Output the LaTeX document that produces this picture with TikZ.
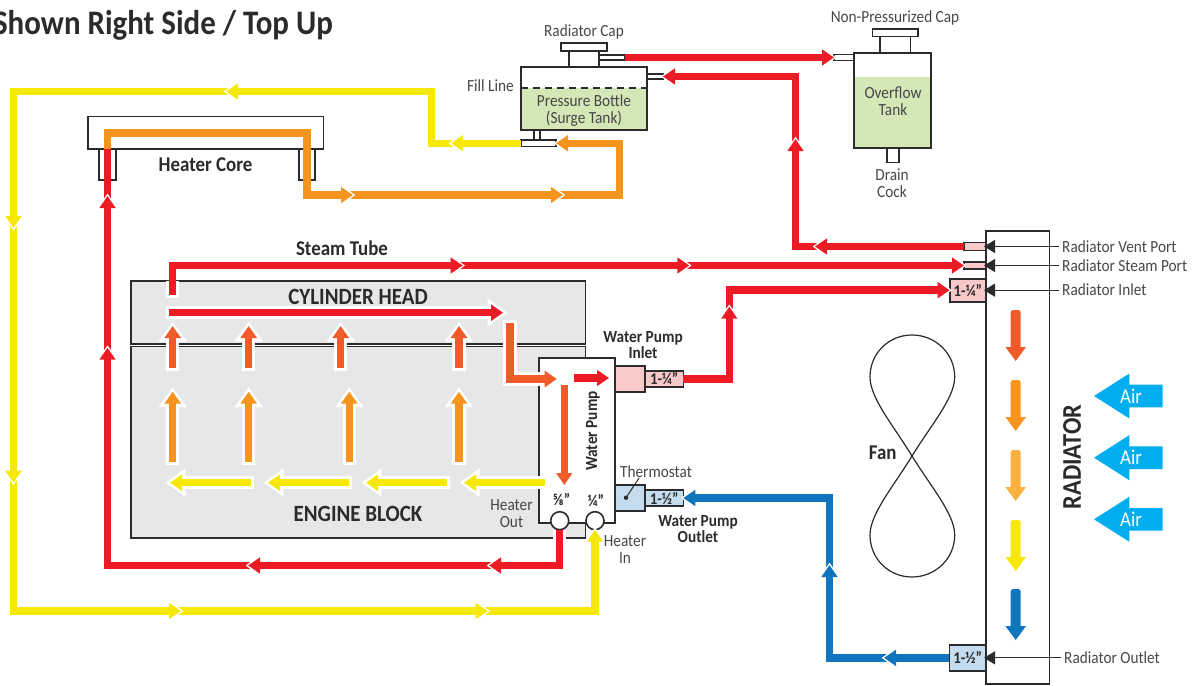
\documentclass[tikz,border=0pt]{standalone}
\usepackage{xcolor}
\usepackage{fontspec}
\setmainfont[FakeStretch=0.9]{Carlito}
\usepackage{tikz}
\usetikzlibrary{arrows.meta}

\definecolor{pipered}{HTML}{ED1C24}
\definecolor{hotorange}{HTML}{F15A29}
\definecolor{pipeorange}{HTML}{F7941D}
\definecolor{paleorange}{HTML}{FBB040}
\definecolor{pipeyellow}{HTML}{F5E80A}
\definecolor{pipeblue}{HTML}{0F75BC}
\definecolor{aircyan}{HTML}{00AEEF}
\definecolor{tankgreen}{HTML}{D3E8B6}
\definecolor{blockgray}{HTML}{E6E7E8}
\definecolor{portpink}{HTML}{F9C9C9}
\definecolor{portblue}{HTML}{C4DCEE}
\definecolor{linedark}{HTML}{2B2B2D}
\definecolor{labelgray}{HTML}{47474A}

\tikzset{
    partbox/.style={draw=linedark, line width=1.6pt, inner sep=0pt, outer sep=0pt},
    sizebox/.style={partbox, font=\fontsize{16.5}{18}\selectfont\bfseries, text=linedark},
    lbl/.style={font=\fontsize{17}{17}\selectfont, text=labelgray, inner sep=0pt, align=center},
    boldlbl/.style={font=\fontsize{17}{16.5}\selectfont\bfseries, text=linedark, inner sep=0pt, align=center},
    midlbl/.style={font=\fontsize{21}{23}\selectfont\bfseries, text=linedark, inner sep=0pt},
    biglbl/.style={font=\fontsize{23.3}{25}\selectfont\bfseries, text=linedark, inner sep=0pt},
    sizelbl/.style={font=\fontsize{16.5}{18}\selectfont\bfseries, text=linedark, inner sep=0pt},
    portlbl/.style={lbl, anchor=west, inner sep=3pt, text height=12pt, text depth=1pt},
    leader/.style={draw=linedark, line width=1pt, -{Triangle[length=11pt,width=13pt]}, shorten >=-2pt},
    pipe/.style={line width=7.5pt},
    flow/.style={pipe, -{Triangle[length=12pt,width=15.5pt]},
        preaction={draw=white, line width=7.5pt, -{Triangle[length=14pt,width=19pt]}, shorten >=-2.4pt}},
    blockflow/.style={pipe, -{Triangle[length=12pt,width=16pt]},
        preaction={draw=white, line width=13.5pt, -{Triangle[length=20pt,width=27pt]}, shorten >=-4.5pt, shorten <=-3pt}},
    fromtip/.style={shorten <=-5pt},
    pipegap/.style={draw=white, line width=13pt},
}

\begin{document}
\begin{tikzpicture}[x=1pt, y=-1pt]
    \useasboundingbox (0,0) rectangle (1201,685);

    % Title
    \node[font=\fontsize{34.4}{36}\selectfont\bfseries, text=linedark, anchor=east, inner sep=0pt] (title) at (333,25) {Shown Right Side / Top Up};

    % Engine
    \node[partbox, fill=blockgray, minimum width=454.5, minimum height=62.7] (cylhead) at (358.25,312.35) {};
    \node[partbox, fill=blockgray, minimum width=454.5, minimum height=191.7] (engblock) at (358.25,442.15) {};
    \node[biglbl] (cylheadlbl) at (358,297) {CYLINDER HEAD};
    \node[biglbl] (engblocklbl) at (358,514) {ENGINE BLOCK};

    % Water pump
    \node[partbox, fill=white, minimum width=75.7, minimum height=165] (pump) at (576.85,440.2) {};
    \node[partbox, fill=portpink, minimum width=30.3, minimum height=25.7] (pumpin) at (629.85,378.85) {};
    \node[sizebox, fill=portpink, minimum width=38.3, minimum height=15.7] (pumpinsize) at (664.15,378.85) {1-¼"};
    \node[partbox, fill=portblue, minimum width=30.3, minimum height=26] (pumpout) at (629.85,498) {};
    \node[sizebox, fill=portblue, minimum width=38.3, minimum height=15.7] (pumpoutsize) at (664.15,498) {1-½"};
    \node[partbox, circle, fill=white, minimum size=18] (hout) at (559.7,520.7) {};
    \node[partbox, circle, fill=white, minimum size=18] (hin) at (595,520.7) {};
    \node[boldlbl, rotate=90] (pumplbl) at (593,431) {Water Pump};
    \node[sizelbl] (houtsize) at (561.5,500) {⅝"};
    \node[sizelbl] (hinsize) at (596,500) {¼"};
    \node[lbl] (houtlbl) at (511.5,513.5) {Heater\\Out};
    \node[lbl] (hinlbl) at (625,549.5) {Heater\\In};
    \node[boldlbl] (pumpinlbl) at (643,345) {Water Pump\\Inlet};
    \node[boldlbl] (pumpoutlbl) at (698,529) {Water Pump\\Outlet};
    \node[lbl] (thermlbl) at (656,471.5) {Thermostat};
    \node[circle, fill=linedark, minimum size=4.5, inner sep=0pt] (thermdot) at (626,497.7) {};
    \coordinate (thermtop) at (639,478);
    \draw[draw=linedark, line width=1pt] (thermtop) -- (thermdot);

    % Heater core
    \node[partbox, minimum width=235.5, minimum height=32.5] (heatercore) at (205.75,132.75) {};
    \node[partbox, minimum width=17, minimum height=31] (stubleft) at (107.5,164.5) {};
    \node[partbox, minimum width=16, minimum height=31] (stubright) at (307,164.5) {};
    \node[midlbl] (heatercorelbl) at (205.5,165) {Heater Core};

    % Pressure bottle
    \fill[tankgreen] (521,88) rectangle (647,130);
    \node[partbox, minimum width=126, minimum height=63] (bottle) at (584,98.5) {};
    \draw[draw=linedark, line width=1.3pt, dash pattern=on 7pt off 5pt] (521,88) -- (647,88);
    \node[partbox, minimum width=30, minimum height=16] (bottleneck) at (584,59) {};
    \node[partbox, minimum width=46, minimum height=8] (bottlecap) at (584,47) {};
    \node[partbox, minimum width=26, minimum height=5.5] (bottletop) at (612,57.5) {};
    \node[partbox, minimum width=16, minimum height=5] (bottleside) at (655,76.5) {};
    \node[partbox, minimum width=6, minimum height=10] (bottlestem) at (537,135) {};
    \node[partbox, minimum width=35, minimum height=6.5] (tee) at (538.5,143.25) {};
    \node[lbl] (capbottlelbl) at (584,31.5) {Radiator Cap};
    \node[lbl] (filllbl) at (490.5,86) {Fill Line};
    \node[lbl] (bottlelbl) at (584,110.5) {Pressure Bottle\\(Surge Tank)};

    % Overflow tank
    \fill[tankgreen] (854,77) rectangle (931,148);
    \node[partbox, minimum width=77, minimum height=95] (overflow) at (892.5,100.5) {};
    \node[partbox, minimum width=30.7, minimum height=16.3] (overneck) at (895.3,44.85) {};
    \node[partbox, minimum width=45.3, minimum height=7.7] (overcap) at (895.3,32.85) {};
    \node[partbox, minimum width=20, minimum height=5.7] (overtube) at (844,57.5) {};
    \node[partbox, minimum width=12.3, minimum height=14.3] (drain) at (892.85,155.15) {};
    \node[lbl] (capoverlbl) at (895,17.5) {Non-Pressurized Cap};
    \node[lbl] (overlbl) at (893,101.5) {Overflow\\Tank};
    \node[lbl] (drainlbl) at (892,183) {Drain\\Cock};

    % Radiator
    \node[partbox, minimum width=63.5, minimum height=453.3] (radiator) at (1017.75,457.35) {};
    \node[partbox, fill=portpink, minimum width=22, minimum height=8] (ventport) at (975,246.5) {};
    \node[partbox, fill=portpink, minimum width=22, minimum height=7.3] (steamport) at (975,265.5) {};
    \node[sizebox, fill=portpink, minimum width=36.3, minimum height=23] (radin) at (967.85,290.2) {1-¼"};
    \node[sizebox, fill=portblue, minimum width=36.7, minimum height=25.7] (radout) at (967.65,657.85) {1-½"};
    \node[font=\fontsize{27}{29}\selectfont\bfseries, text=linedark, rotate=90, inner sep=0pt] (radlbl) at (1072,457) {RADIATOR};
    \node[portlbl] (ventlbl) at (1059,246.5) {Radiator Vent Port};
    \node[portlbl] (steamlbl) at (1059,265.5) {Radiator Steam Port};
    \node[portlbl] (inletlbl) at (1059,290.2) {Radiator Inlet};
    \node[portlbl] (outletlbl) at (1061,657.85) {Radiator Outlet};
    \draw[leader] (ventlbl.west) -- (ventlbl.west -| radiator.west);
    \draw[leader] (steamlbl.west) -- (steamlbl.west -| radiator.west);
    \draw[leader] (inletlbl.west) -- (inletlbl.west -| radiator.west);
    \draw[leader] (outletlbl.west) -- (outletlbl.west -| radiator.west);

    % Fan
    \draw[draw=linedark, line width=1.2pt] (912,456) .. controls (893,425) and (870,398) .. (870,377)
        .. controls (870,353) and (889,335) .. (912,335) .. controls (935,335) and (954.7,353) .. (954.7,377)
        .. controls (954.7,398) and (931,425) .. (912,456) .. controls (893,487) and (870,514) .. (870,535)
        .. controls (870,559) and (889,577) .. (912,577) .. controls (935,577) and (954.7,559) .. (954.7,535)
        .. controls (954.7,514) and (931,487) .. (912,456) -- cycle;
    \node[midlbl] (fanlbl) at (882.7,453) {Fan};

    % Pipe joints
    \foreach \n/\x/\y in {ya/451/143.25, yb/431.5/91.5, yc/226/91.5, yd/13.5/228, ye/13.5/482.7, yf/181/611, yg/487.7/611,
        ra/489/565.5, rb/248/565.5, rc/107.5/347.7, rd/107.5/196,
        oa/107.5/133, ob/307/133, oc/307/195, od/353/195, oe/563/195, of/619.5/195,
        va/815/246.5, vb/795.5/139,
        sa/172.7/295, sc/462.7/265.5, sd/689.3/265.5,
        ia/729.3/378.85, ib/729.3/306.7,
        ba/884/657.85, bb/829.5/565} {
        \coordinate (\n) at (\x,\y);
    }

    % Yellow line
    \draw[flow, fromtip, pipeyellow] (yg) -| (hin.south);
    \draw[flow, fromtip, pipeyellow] (yf) -- (yg);
    \draw[flow, fromtip, pipeyellow] (ye) |- (yf);
    \draw[flow, fromtip, pipeyellow] (yd) -- (ye);
    \draw[flow, fromtip, pipeyellow] (yc) -| (yd);
    \draw[flow, fromtip, pipeyellow] (ya) -| (yb) -- (yc);
    \draw[flow, pipeyellow] (tee.west) -- (ya);

    % Heater lines
    \draw[pipegap] (hout.south) -- ++(0,20);
    \draw[pipe, fromtip, pipered] (rd) -- (stubleft.north);
    \draw[flow, fromtip, pipered] (rc) -- (rd);
    \draw[flow, fromtip, pipered] (rb) -| (rc);
    \draw[flow, fromtip, pipered] (ra) -- (rb);
    \draw[flow, pipered] (hout.south) |- (ra);
    \draw[flow, fromtip, pipeorange] (oe) -- (of) |- (tee.east);
    \draw[flow, fromtip, pipeorange] (od) -- (oe);
    \draw[flow, pipeorange] (stubleft.north) -- (oa) -- (ob) -- (oc) -- (od);

    % Vent and cap lines
    \draw[flow, fromtip, pipered] (vb) |- (bottleside.east);
    \draw[flow, fromtip, pipered] (va) -| (vb);
    \draw[flow, pipered] (ventport.west) -- (va);
    \draw[flow, pipered] (bottletop.east) -- (overtube.west);

    % Steam tube
    \draw[flow, fromtip, pipered] (sd) -- (steamport.west);
    \draw[flow, fromtip, pipered] (sc) -- (sd);
    \draw[pipegap] (sa) ++(0,3) -- (sa |- cylhead.north);
    \node[midlbl] (steamtubelbl) at (342,248) {Steam Tube};
    \draw[flow, pipered] (sa) |- (sc);

    % Radiator inlet and outlet lines
    \draw[flow, fromtip, pipered] (ib) |- (radin.west);
    \draw[flow, pipered] (pumpinsize.east) -- (ia) -- (ib);
    \draw[flow, fromtip, pipeblue] (bb) |- (pumpoutsize.east);
    \draw[flow, fromtip, pipeblue] (ba) -| (bb);
    \draw[flow, pipeblue] (radout.west) -- (ba);

    % Flow inside the engine
    \foreach \x in {172.7,248.7,340.7,459} {
        \draw[blockflow, hotorange] (\x,368.3) -- (\x,326);
    }
    \foreach \x in {172.7,248.7,349.3,459} {
        \draw[blockflow, pipeorange] (\x,461.7) -- (\x,391.7);
    }
    \foreach \a/\b in {545/464,447/366,349/268,251/170} {
        \draw[blockflow, pipeyellow] (\a,482.7) -- (\b,482.7);
    }
    \draw[blockflow, pipered] (169,312.7) -- (503,312.7);
    \draw[blockflow, hotorange] (510,322.7) -- (510,379) -- (556.7,379);
    \draw[flow, pipered] (574,378) -- (609,378);
    \draw[flow, hotorange] (564.3,385) -- (564.3,485);

    % Flow inside the radiator
    \foreach \y/\c in {310/hotorange,380/pipeorange,450/paleorange,520/pipeyellow,589/pipeblue} {
        \fill[\c, rounded corners=2.5pt] (1010.7,\y) rectangle (1020.7,\y+40);
        \fill[\c] (1005.4,\y+37) -- (1026,\y+37) -- (1015.7,\y+51) -- cycle;
    }

    % Air
    \foreach \i/\y in {1/396,2/457.7,3/519.3} {
        \fill[aircyan] (1094,\y) -- (1129.3,\y-22.5) -- (1129.3,\y-11.3) -- (1162.7,\y-11.3)
            -- (1162.7,\y+11.3) -- (1129.3,\y+11.3) -- (1129.3,\y+22.5) -- cycle;
        \node[font=\fontsize{21}{23}\selectfont, text=white, inner sep=0pt] (air\i) at (1131,\y) {Air};
    }
\end{tikzpicture}
\end{document}
